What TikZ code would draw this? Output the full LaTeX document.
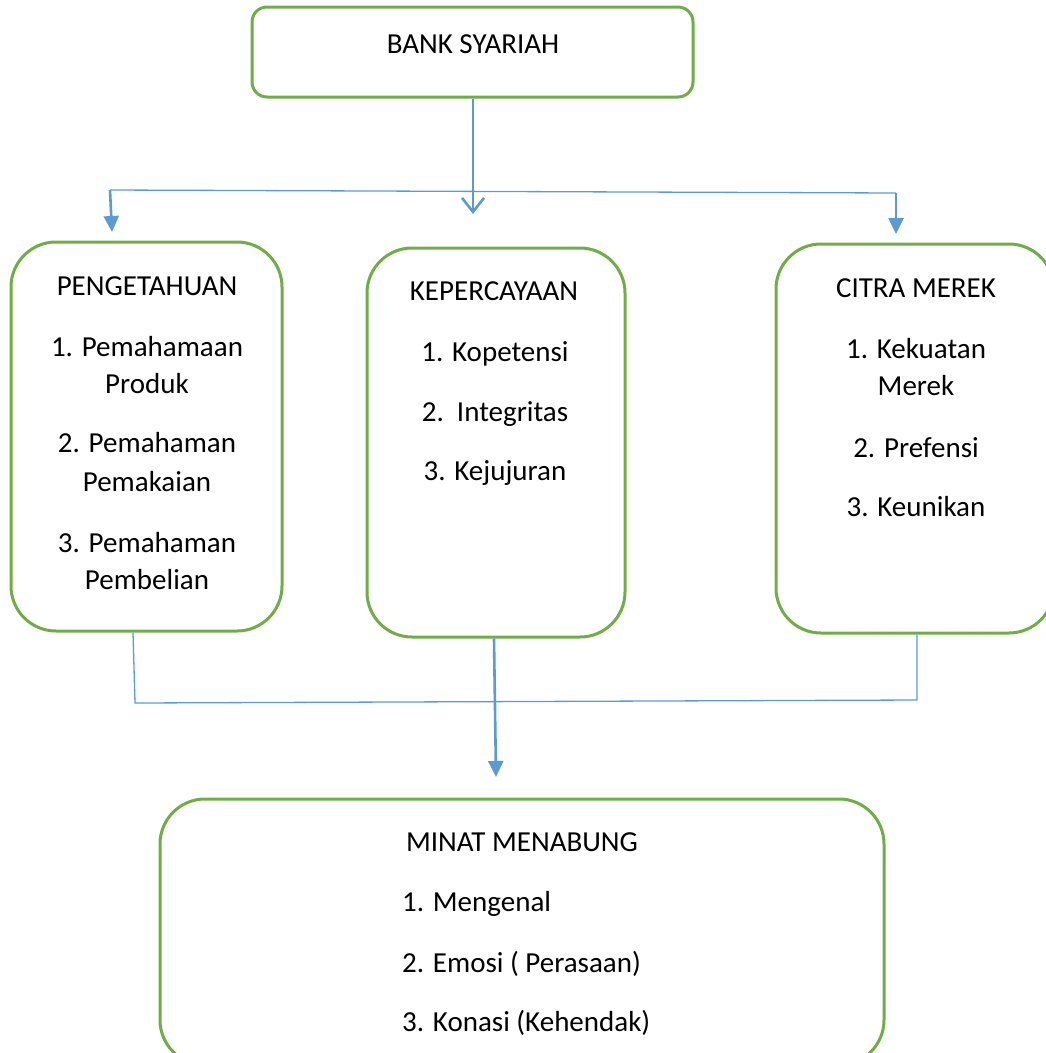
\documentclass[tikz,border=0pt]{standalone}
\usepackage{fontspec}
\setmainfont{Carlito}
\usetikzlibrary{arrows.meta}
\definecolor{boxgreen}{HTML}{70AD47}
\definecolor{lineblue}{HTML}{5B9BD5}
\begin{document}
\begin{tikzpicture}[x=1pt,y=-1pt,
  box/.style={draw=boxgreen,line width=3pt,rounded corners=#1,minimum width=0pt,minimum height=0pt,inner sep=0pt},
  box/.default=45pt,
  lbl/.style={anchor=base,inner sep=0pt,font=\fontsize{29}{36}\selectfont},
  thin/.style={draw=lineblue,line width=1.3pt},
  thick/.style={draw=lineblue,line width=2.6pt},
  tri/.style={-{Triangle[length=16pt,width=15pt]}},
  vee/.style={-{Straight Barb[length=14pt,width=22pt]}}]
\useasboundingbox (0,0) rectangle (1046,1053);
\clip (0,0) rectangle (1046,1053);
% boxes
\node[box=15pt,minimum width=441pt,minimum height=90pt] (bank) at (472.5,52) {};
\node[box,minimum width=271pt,minimum height=389pt] (peng) at (146.5,436.5) {};
\node[box,minimum width=258pt,minimum height=389pt] (kep) at (496,442.5) {};
\node[box,minimum width=278pt,minimum height=389pt] (citra) at (915,438.5) {};
\node[box,minimum width=724pt,minimum height=266pt] (minat) at (522,932) {};
% texts
\node[lbl] (tbank) at (473,53) {BANK SYARIAH};
\node[lbl] (tpeng) at (147,295) {PENGETAHUAN};
\node[lbl] (p1a) at (147,356) {1. Pemahamaan};
\node[lbl] (p1b) at (147,393) {Produk};
\node[lbl] (p2a) at (147,452) {2. Pemahaman};
\node[lbl] (p2b) at (147,491) {Pemakaian};
\node[lbl] (p3a) at (147,552) {3. Pemahaman};
\node[lbl] (p3b) at (147,589) {Pembelian};
\node[lbl] (tkep) at (494,300) {KEPERCAYAAN};
\node[lbl] (k1) at (495,361) {1. Kopetensi};
\node[lbl] (k2) at (495,421) {2.\ \ Integritas};
\node[lbl] (k3) at (495,480) {3. Kejujuran};
\node[lbl] (tcitra) at (916,297) {CITRA MEREK};
\node[lbl] (c1a) at (916,358) {1. Kekuatan};
\node[lbl] (c1b) at (916,395) {Merek};
\node[lbl] (c2) at (916,457) {2. Prefensi};
\node[lbl] (c3) at (916,516) {3. Keunikan};
\node[lbl] (tminat) at (522,851) {MINAT MENABUNG};
\node[lbl,anchor=base west] (m1) at (402,911) {1. Mengenal};
\node[lbl,anchor=base west] (m2) at (402,972) {2. Emosi ( Perasaan)};
\node[lbl,anchor=base west] (m3) at (402,1031) {3. Konasi (Kehendak)};
% connector points
\coordinate (tl) at (110,190);
\coordinate (tr) at (896,193);
\coordinate (bl) at (135,703);
\coordinate (br) at (917,700);
\coordinate (ltip) at (112,232);
\coordinate (rtip) at (896,234);
\coordinate (ctip) at (473,214);
\coordinate (mtip) at (496,777);
% top connectors
\draw[thin] (tl) -- (tr);
\draw[thick,vee] (bank.south -| ctip) -- (ctip);
\draw[thick,tri] (tl) -- (ltip);
\draw[thick,tri] (tr) -- (rtip);
% bottom connectors
\draw[thin] (peng.south -| 133,0) -- (bl) -- (br) -- (citra.south -| br);
\draw[thick,tri] (kep.south -| 494,0) -- (mtip);
\end{tikzpicture}
\end{document}
